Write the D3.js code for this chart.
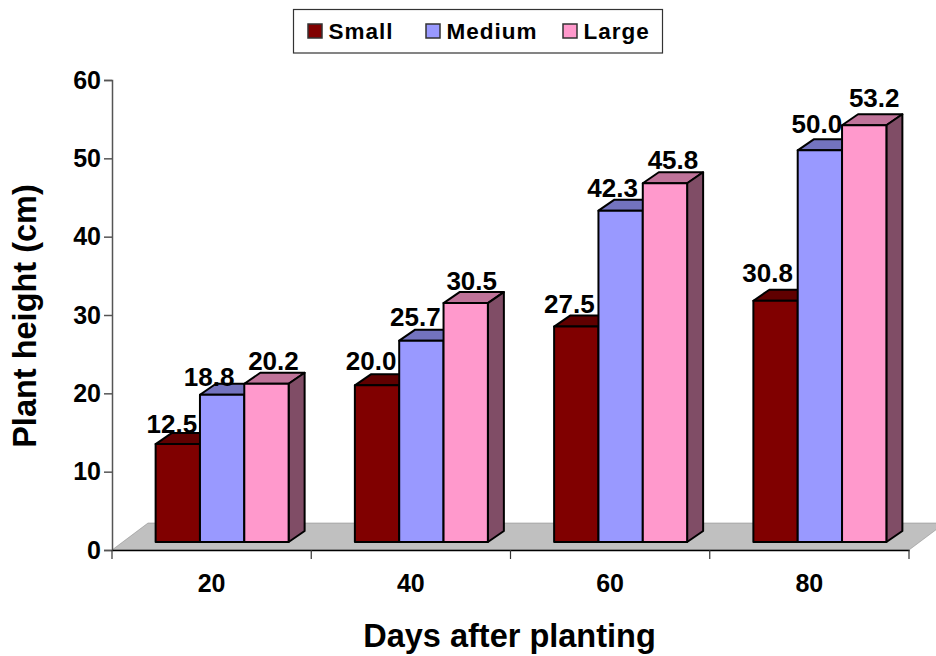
<!DOCTYPE html>
<html>
<head>
<meta charset="utf-8">
<script src="https://d3js.org/d3.v7.min.js"></script>
<style>
  html, body { margin: 0; padding: 0; background: #fff; overflow: hidden; }
  text { font-family: "Liberation Sans", Arial, sans-serif; font-weight: bold; fill: #000; }
</style>
</head>
<body>
<div id="chart"></div>
<script>
// Data
var days = ['20', '40', '60', '80'];
var seriesNames = ['Small', 'Medium', 'Large'];
var small = [12.5, 20.0, 27.5, 30.8];
var medium = [18.8, 25.7, 42.3, 50.0];
var large = [20.2, 30.5, 45.8, 53.2];
var yTicks = [0, 10, 20, 30, 40, 50, 60];

var seriesValues = [small, medium, large];
var frontColors = ['#800000', '#9999ff', '#ff99cc'];
var topColors = ['#600000', '#7373bf', '#bf7399'];
var sideColors = ['#400000', '#4d4d80', '#804d66'];

// Label nudges, one row per series (px from the top centre of the bar front)
var nudgeX = [[-6, -6, -7, -8], [-13, -6, -8, -3], [7, 6, 8, 10]];
var nudgeY = [[-11, -15, -14, -19], [-9, -15, -14, -17], [-14, -13, -14, -18]];

var width = 936, height = 656;
var plot = { left: 112, right: 909, top: 80, bottom: 550 };
var depth = { x: 36, y: -27 };      // floor depth
var barDepth = { x: 16, y: -11 };   // depth of one bar
var barShift = { x: 10.5, y: -8 };  // bars stand inside the floor
var groupWidth = 133;

var svg = d3.select('#chart').append('svg')
    .attr('width', width)
    .attr('height', height)
    .style('display', 'block');

var x = d3.scaleBand().domain(days).range([plot.left, plot.right]);
var xBar = d3.scaleBand().domain(seriesNames)
    .range([x.bandwidth() / 2 - groupWidth / 2, x.bandwidth() / 2 + groupWidth / 2]);
var y = d3.scaleLinear().domain([0, 60]).range([plot.bottom, plot.top]);

// Floor
svg.append('path')
    .attr('d', d3.line()([
        [plot.left, plot.bottom],
        [plot.left + depth.x, plot.bottom + depth.y],
        [plot.right + depth.x, plot.bottom + depth.y],
        [plot.right, plot.bottom]
    ]) + 'Z')
    .attr('fill', '#c0c0c0')
    .attr('stroke', '#808080')
    .attr('stroke-width', 0.5);

// Axes
var yAxis = svg.append('g')
    .attr('transform', 'translate(' + plot.left + ',0)')
    .call(d3.axisLeft(y).tickValues(yTicks).tickSize(8).tickPadding(3).tickFormat(d3.format('d')));
yAxis.select('.domain').attr('stroke', '#555').attr('stroke-width', 1.5);
yAxis.selectAll('line').attr('stroke', '#555').attr('stroke-width', 1.5);
yAxis.selectAll('text').style('font-size', '25px');

var xAxis = svg.append('g')
    .attr('transform', 'translate(0,' + plot.bottom + ')')
    .call(d3.axisBottom(x).tickSize(0).tickPadding(24));
xAxis.select('.domain').attr('stroke', '#000').attr('stroke-width', 1.5);
xAxis.selectAll('text').style('font-size', '25px');

svg.selectAll('.cat-tick')
    .data(d3.range(days.length + 1))
    .enter().append('line')
    .attr('class', 'cat-tick')
    .attr('x1', function (i) { return plot.left + i * x.step(); })
    .attr('x2', function (i) { return plot.left + i * x.step(); })
    .attr('y1', plot.bottom)
    .attr('y2', plot.bottom + 9)
    .attr('stroke', '#333')
    .attr('stroke-width', 1.2);

// Bars, drawn left to right so later ones cover the sides of earlier ones
var bars = [];
seriesNames.forEach(function (name, s) {
    days.forEach(function (day, c) {
        bars.push({ day: day, s: s, c: c, name: name, value: seriesValues[s][c] });
    });
});

var barGroups = svg.selectAll('.bar')
    .data(bars)
    .enter().append('g')
    .attr('class', 'bar')
    .attr('transform', function (d) {
        return 'translate(' + (x(d.day) + xBar(d.name) + barShift.x) + ',' + barShift.y + ')';
    });

function face(points) { return d3.line()(points) + 'Z'; }

barGroups.append('path')
    .attr('d', function (d) {
        var w = xBar.bandwidth();
        return face([[0, y(d.value)], [barDepth.x, y(d.value) + barDepth.y],
            [w + barDepth.x, y(d.value) + barDepth.y], [w, y(d.value)]]);
    })
    .attr('fill', function (d) { return topColors[d.s]; });

barGroups.append('path')
    .attr('d', function (d) {
        var w = xBar.bandwidth();
        return face([[w, y(d.value)], [w + barDepth.x, y(d.value) + barDepth.y],
            [w + barDepth.x, y(0) + barDepth.y], [w, y(0)]]);
    })
    .attr('fill', function (d) { return sideColors[d.s]; });

barGroups.append('rect')
    .attr('x', 0)
    .attr('y', function (d) { return y(d.value); })
    .attr('width', xBar.bandwidth())
    .attr('height', function (d) { return y(0) - y(d.value); })
    .attr('fill', function (d) { return frontColors[d.s]; });

barGroups.selectAll('path, rect')
    .attr('stroke', '#000')
    .attr('stroke-width', 2)
    .attr('stroke-linejoin', 'round');

// Value labels on top of everything
svg.selectAll('.value-label')
    .data(bars)
    .enter().append('text')
    .attr('class', 'value-label')
    .attr('text-anchor', 'middle')
    .attr('x', function (d) {
        return x(d.day) + xBar(d.name) + barShift.x + xBar.bandwidth() / 2 + nudgeX[d.s][d.c];
    })
    .attr('y', function (d) { return y(d.value) + barShift.y + nudgeY[d.s][d.c]; })
    .style('font-size', '26px')
    .text(function (d) { return d3.format('.1f')(d.value); });

// Axis titles
svg.append('text')
    .attr('x', 509.5)
    .attr('y', 647)
    .attr('text-anchor', 'middle')
    .style('font-size', '32.5px')
    .text('Days after planting');

svg.append('text')
    .attr('transform', 'translate(36,316) rotate(-90)')
    .attr('text-anchor', 'middle')
    .style('font-size', '32.5px')
    .text('Plant height (cm)');

// Legend
var legend = svg.append('g');
legend.append('rect')
    .attr('x', 293.5).attr('y', 9.5)
    .attr('width', 369).attr('height', 43.5)
    .attr('fill', '#fff')
    .attr('stroke', '#333')
    .attr('stroke-width', 1.2);

var legendX = d3.scaleOrdinal().domain(seriesNames).range([308, 426, 563]);

var items = legend.selectAll('.item')
    .data(seriesNames)
    .enter().append('g')
    .attr('class', 'item')
    .attr('transform', function (d) { return 'translate(' + legendX(d) + ',24)'; });

items.append('rect')
    .attr('width', 14).attr('height', 14)
    .attr('fill', function (d, i) { return frontColors[i]; })
    .attr('stroke', '#333')
    .attr('stroke-width', 1.5);

items.append('text')
    .attr('x', 20.5)
    .attr('y', 15)
    .style('font-size', '22.5px')
    .style('letter-spacing', '1px')
    .text(function (d) { return d; });
</script>
</body>
</html>
